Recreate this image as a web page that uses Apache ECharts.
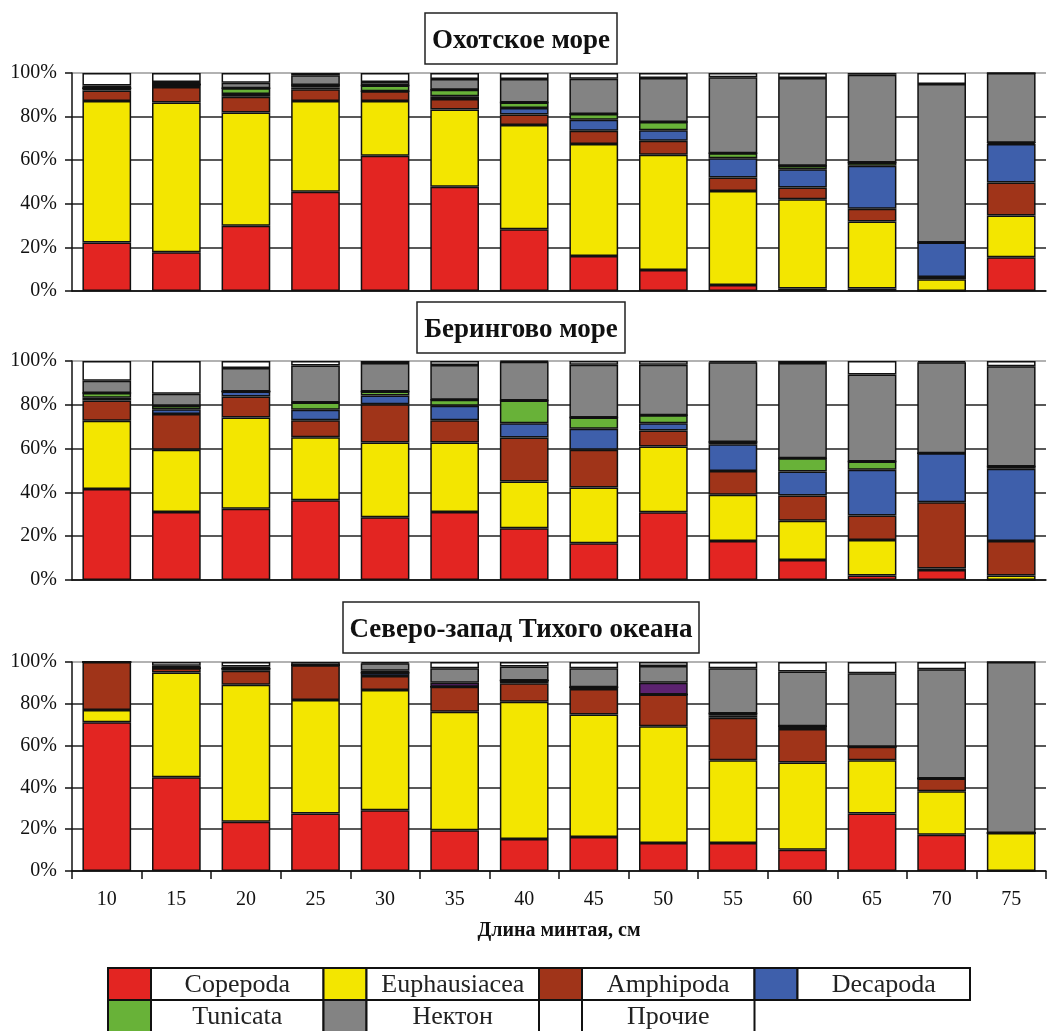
<!DOCTYPE html>
<html><head><meta charset="utf-8">
<script src="https://cdn.jsdelivr.net/npm/echarts@6/dist/echarts.min.js"></script>
<style>html,body{margin:0;padding:0;background:#fff}#c{width:1052px;height:1031px}</style>
</head><body><div id="c"></div>
<script>
// ---- categories / labels ----
const lengths = ['10','15','20','25','30','35','40','45','50','55','60','65','70','75'];
const legendNames = ['Copepoda','Euphausiacea','Amphipoda','Decapoda','Tunicata','Нектон','Прочие'];
const panelTitles = ['Охотское море','Берингово море','Северо-запад Тихого океана'];
const xAxisTitle = 'Длина минтая, см';
const yTickValues = [0,20,40,60,80,100];

// ---- Охотское море (segment shares, %) ----
const okhCopepoda     = [22.2,17.8,29.9,45.5,62.0,47.8,28.3,16.1,9.6,2.8,1.2,1.2,0,15.5];
const okhEuphausiacea = [64.9,68.7,52.0,41.6,25.1,35.4,47.8,51.3,52.9,43.1,40.9,30.7,5.4,19.1];
const okhAmphipoda    = [4.9,7.1,7.2,5.5,4.5,4.9,4.9,6.1,6.4,6.2,5.4,5.8,1.0,15.2];
const okhDecapoda     = [1.0,1.1,1.3,0.7,0,1.2,2.9,5.1,4.8,8.8,8.4,19.7,15.8,17.6];
const okhTunicata     = [0,0,2.6,1.2,2.7,3.0,2.6,2.6,3.8,2.3,1.5,1.6,0,0.6];
const okhUnlisted     = [0,0,0,0,0,0,0,0,0,0,0,0,0,0];
const okhNekton       = [1.3,1.2,2.5,4.5,1.6,4.9,10.8,16.2,20.2,34.8,40.3,40.2,72.7,32.0];
const okhOther        = [5.7,4.1,4.5,1.0,4.1,2.8,2.7,2.6,2.3,2.0,2.3,0.8,5.1,0];

// ---- Берингово море ----
const berCopepoda     = [41.6,31.1,32.5,36.4,28.7,31.1,23.6,16.8,30.9,17.8,9.1,2.0,4.6,0];
const berEuphausiacea = [31.1,28.4,41.7,28.8,34.1,31.7,21.4,25.4,30.1,21.1,18.0,16.3,0.7,2.0];
const berAmphipoda    = [9.3,16.3,9.6,7.8,17.5,10.1,20.1,17.3,7.3,10.9,11.5,11.1,30.2,15.8];
const berDecapoda     = [1.2,2.2,2.3,4.7,4.0,6.7,6.5,9.6,3.3,12.2,10.9,20.9,22.4,33.0];
const berTunicata     = [2.2,1.6,0,3.4,1.8,2.7,10.4,5.1,3.6,1.0,6.1,3.8,0,1.0];
const berUnlisted     = [0,0,0,0,0,0,0,0,0,0,0,0,0,0];
const berNekton       = [5.6,5.5,10.7,16.8,13.0,15.9,17.7,24.1,23.1,36.4,43.5,39.7,41.5,45.8];
const berOther        = [9.0,14.9,3.2,2.1,0.9,1.8,0.3,1.7,1.7,0.6,0.9,6.2,0.6,2.4];

// ---- Северо-запад Тихого океана ----
const pacCopepoda     = [71.2,44.9,23.6,27.5,29.1,19.5,15.3,16.3,13.4,13.4,10.2,27.5,17.4,0];
const pacEuphausiacea = [5.8,50.1,65.5,54.3,57.5,56.7,65.7,58.6,55.9,39.6,41.7,25.5,20.8,18.2];
const pacAmphipoda    = [23.0,2.0,6.7,16.6,6.7,12.0,8.8,12.2,15.2,20.3,16.0,6.4,6.0,0];
const pacDecapoda     = [0,0,1.0,0,1.6,0,1.3,0.8,0,1.0,1.4,0,0,0];
const pacTunicata     = [0,0,0,0,0,0,0,0,0,1.1,0,0,0,0];
const pacUnlisted     = [0,0,0,0,0.9,1.9,0,0,5.6,0,0,0,0,0];
const pacNekton       = [0,1.2,1.0,0,3.6,6.9,6.7,9.1,8.0,21.6,26.1,35.2,52.3,81.8];
const pacOther        = [0,1.8,2.2,1.6,0.6,3.0,2.2,3.0,1.9,3.0,4.6,5.4,3.5,0];

// ---- styling ----
const colors = {
  'Copepoda':'#e32522','Euphausiacea':'#f3e600','Amphipoda':'#a03419','Decapoda':'#3e5fab',
  'Tunicata':'#68b238','unlisted':'#5c2270','Нектон':'#838383','Прочие':'#ffffff'
};
const stackOrder = ['Copepoda','Euphausiacea','Amphipoda','Decapoda','Tunicata','unlisted','Нектон','Прочие'];
const panelData = [
  [okhCopepoda,okhEuphausiacea,okhAmphipoda,okhDecapoda,okhTunicata,okhUnlisted,okhNekton,okhOther],
  [berCopepoda,berEuphausiacea,berAmphipoda,berDecapoda,berTunicata,berUnlisted,berNekton,berOther],
  [pacCopepoda,pacEuphausiacea,pacAmphipoda,pacDecapoda,pacTunicata,pacUnlisted,pacNekton,pacOther]
];
const gridBoxes = [{top:73,height:218},{top:361,height:219},{top:662,height:209}];
const titleTops = [13,302,602];
const serif = '"Liberation Serif", "DejaVu Serif", serif';

const grids = [], xAxes = [], yAxes = [], series = [], titles = [];
gridBoxes.forEach((g, p) => {
  grids.push({left:72, right:6, top:g.top, height:g.height});
  const last = p === 2;
  xAxes.push({
    type:'category', gridIndex:p, data:lengths, boundaryGap:true,
    axisLine:{show:true, lineStyle:{color:'#111', width:1.5}},
    axisTick:{show:last, length:8, lineStyle:{color:'#111', width:1.5}},
    axisLabel:{show:last, fontFamily:serif, fontSize:20, color:'#111', margin:19},
    splitLine:{show:false},
    name: last ? xAxisTitle : '', nameLocation:'middle', nameGap:50,
    nameTextStyle:{fontFamily:serif, fontSize:20, fontWeight:'bold', color:'#111'}
  });
  yAxes.push({
    type:'value', gridIndex:p, min:0, max:100, interval:20,
    axisLine:{show:true, lineStyle:{color:'#111', width:1.5}},
    axisTick:{show:true, length:7, inside:false, lineStyle:{color:'#111', width:1.5}},
    axisLabel:{formatter:'{value}%', fontFamily:serif, fontSize:20, color:'#111', margin:15},
    splitLine:{show:true, lineStyle:{color:['#222','#222','#222','#222','#222','#999'], width:1.6}}
  });
  titles.push({
    text: panelTitles[p], left:514, textAlign:'center', top:titleTops[p],
    padding:[15,7,9,7], borderColor:'#222', borderWidth:1.5, backgroundColor:'#fff',
    textStyle:{fontFamily:serif, fontSize:27, lineHeight:27, fontWeight:'bold', color:'#111'}
  });
  stackOrder.forEach((name, s) => {
    series.push({
      type:'bar', name:name, xAxisIndex:p, yAxisIndex:p, stack:'panel'+p, stackStrategy:'all',
      barWidth:'70%', data:panelData[p][s],
      itemStyle:{color:colors[name], borderColor:'#111', borderWidth:1.5},
      emphasis:{disabled:true}, silent:true
    });
  });
});

// ---- legend drawn as a table ----
const graphic = [];
const lx0 = 108, ly0 = 968, colW = 215.5, swW = 43, rowH = 32;
legendNames.forEach((name, i) => {
  const row = Math.floor(i / 4), col = i % 4;
  const x = lx0 + col * colW, y = ly0 + row * rowH;
  graphic.push({type:'rect', shape:{x:x, y:y, width:swW, height:rowH},
    style:{fill:colors[name], stroke:'#111', lineWidth:2}, silent:true});
  graphic.push({type:'rect', shape:{x:x + swW, y:y, width:colW - swW, height:rowH},
    style:{fill:'#fff', stroke:'#111', lineWidth:2}, silent:true});
  graphic.push({type:'text', silent:true,
    style:{text:name, x:x + swW + (colW - swW) / 2, y:y + rowH / 2 + 1,
      textAlign:'center', textVerticalAlign:'middle', align:'center', verticalAlign:'middle',
      font:'26px "Liberation Serif"', fill:'#222'}});
});

const chart = echarts.init(document.getElementById('c'), null, {renderer:'canvas'});
chart.setOption({
  animation:false, backgroundColor:'#fff',
  title:titles, grid:grids, xAxis:xAxes, yAxis:yAxes, series:series, graphic:graphic,
  tooltip:{show:false}
});
</script></body></html>
